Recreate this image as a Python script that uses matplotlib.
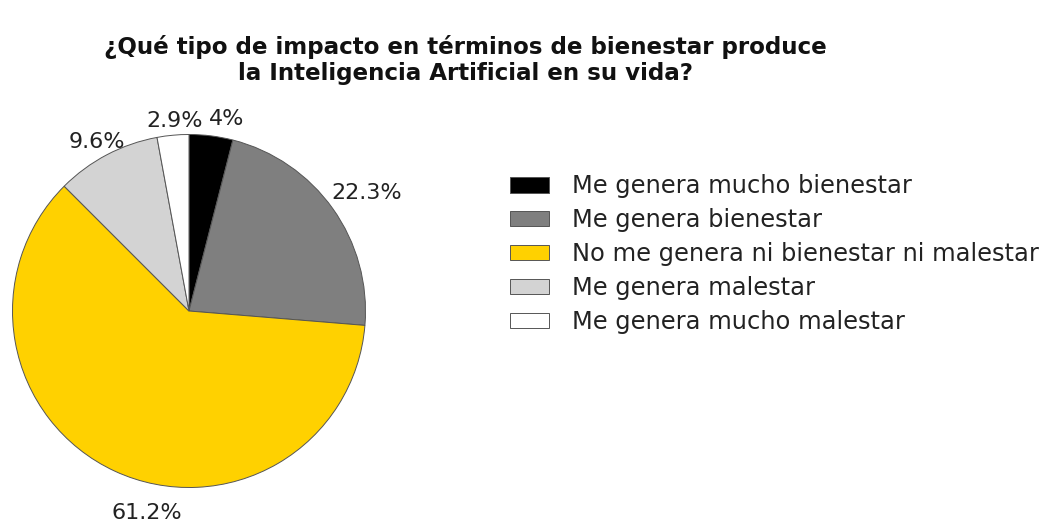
import matplotlib
matplotlib.use("Agg")
import matplotlib.pyplot as plt
import numpy as np

categories = ["Me genera mucho bienestar", "Me genera bienestar",
              "No me genera ni bienestar ni malestar", "Me genera malestar",
              "Me genera mucho malestar"]
values = [4.0, 22.3, 61.2, 9.6, 2.9]
pct_labels = ["4%", "22.3%", "61.2%", "9.6%", "2.9%"]
colors = ["#000000", "#7f7f7f", "#FFD100", "#D3D3D3", "#FFFFFF"]
title = "¿Qué tipo de impacto en términos de bienestar produce\nla Inteligencia Artificial en su vida?"

# label placement styling (distance in radii, angular nudge in degrees)
label_dist = [1.11, 1.21, 1.17, 1.09, 1.08]
label_nudge = [-4, -2, 13, 1, -1]

plt.rcParams['font.family'] = ['DejaVu Sans']

W, H = 1045, 525
fig = plt.figure(figsize=(W / 100, H / 100), dpi=100)
cx, cy, R = 189, 311, 176.5
ax = fig.add_axes([(cx - R) / W, (H - cy - R) / H, 2 * R / W, 2 * R / H])
wedges, _ = ax.pie(values, colors=colors, startangle=90, counterclock=False,
                   radius=1, wedgeprops=dict(edgecolor="#555555", linewidth=0.7))
ax.set_xlim(-1, 1)
ax.set_ylim(-1, 1)
ax.set_aspect("equal")
ax.axis("off")

for w, lab, d, nd in zip(wedges, pct_labels, label_dist, label_nudge):
    ang = np.deg2rad((w.theta1 + w.theta2) / 2 + nd)
    ax.text(d * np.cos(ang), d * np.sin(ang), lab, ha="center", va="center",
            fontsize=16, color="#222222", clip_on=False)

fig.text(465 / W, 1 - 60 / H, title, ha="center", va="center", fontsize=16.6,
         fontweight="bold", color="#111111", linespacing=1.2)

leg = fig.legend(wedges, categories, loc="upper left",
                 bbox_to_anchor=(503 / W, 1 - 167 / H), frameon=False,
                 fontsize=17.4, handlelength=1.6, handleheight=0.62,
                 labelspacing=0.41, handletextpad=0.95, borderaxespad=0,
                 borderpad=0.3)
for t in leg.get_texts():
    t.set_color("#222222")

fig.savefig("out.png", dpi=100)
